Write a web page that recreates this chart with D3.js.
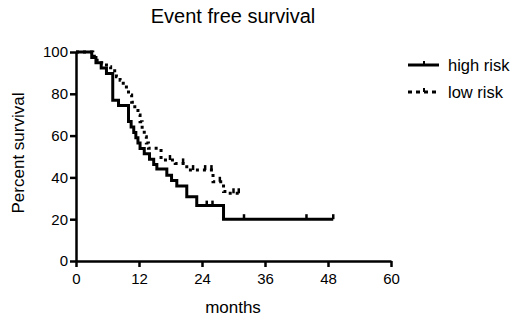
<!DOCTYPE html>
<html>
<head>
<meta charset="utf-8">
<script src="https://cdn.jsdelivr.net/npm/d3@7"></script>
<style>
    body { margin: 0; background: #fff; }
    text { font-family: "Liberation Sans", Arial, sans-serif; fill: #000; }
</style>
</head>
<body>
<div id="chart"></div>
<script>
// Kaplan-Meier step values
const highMonths   = [0, 3.0, 3.8, 4.8, 5.8, 7.0, 8.1, 10.0, 10.5, 11.0, 11.4, 11.8, 12.2, 13.0, 14.0, 14.8, 15.4, 17.3, 18.2, 19.2, 21.1, 23.0, 28.1, 49.0];
const highSurvival = [100, 97.4, 94.9, 92.3, 89.7, 76.9, 74.4, 66.7, 64.1, 61.5, 59.0, 56.4, 53.8, 51.3, 48.7, 46.2, 44.0, 41.0, 38.5, 35.9, 30.8, 26.5, 20.0, 20.0];
const highCensored = [24.9, 26.0, 32.0, 43.9, 49.0];

const lowMonths   = [0, 3.2, 4.0, 4.9, 5.8, 6.6, 7.7, 8.4, 9.0, 9.6, 10.0, 10.6, 11.2, 11.8, 12.2, 12.6, 13.0, 13.4, 13.8, 16.2, 18.9, 21.1, 26.1, 28.1, 28.7, 31.0];
const lowSurvival = [100, 98, 96, 94.5, 93, 91, 88.2, 86.5, 84.2, 82, 79.4, 76, 72, 69.8, 66.6, 63, 59.5, 56.5, 53.9, 48.3, 46.7, 43.5, 37.9, 33.2, 32.4, 32.4];
const lowCensored = [17.9, 20.4, 22.3, 24.6, 25.8, 27.4, 30.0, 31.0];

const xTicks = [0, 12, 24, 36, 48, 60];
const yTicks = [0, 20, 40, 60, 80, 100];
const seriesNames = ["high risk", "low risk"];

const width = 520, height = 325;

const svg = d3.select("#chart")
    .append("svg")
    .attr("width", width)
    .attr("height", height);

// scales
const x = d3.scaleLinear().domain([0, 60]).range([76, 391]);
const y = d3.scaleLinear().domain([0, 100]).range([261, 52]);

// axes
const xAxis = d3.axisBottom(x).tickValues(xTicks).tickSize(6).tickPadding(6).tickSizeOuter(0);
const yAxis = d3.axisLeft(y).tickValues(yTicks).tickSize(6).tickPadding(2).tickSizeOuter(0);

svg.append("g")
    .attr("transform", "translate(0," + y(0) + ")")
    .call(xAxis)
    .call(g => g.selectAll("path, line").attr("stroke", "#000").attr("stroke-width", 2.5))
    .call(g => g.selectAll("text").style("font-size", "15px").attr("fill", "#000"));

svg.append("g")
    .attr("transform", "translate(" + x(0) + ",0)")
    .call(yAxis)
    .call(g => g.selectAll("path, line").attr("stroke", "#000").attr("stroke-width", 2.5))
    .call(g => g.selectAll("text").style("font-size", "15px").attr("fill", "#000"));

// survival curves
const line = d3.line()
    .x(d => x(d[0]))
    .y(d => y(d[1]))
    .curve(d3.curveStepAfter);

const highData = highMonths.map((m, i) => [m, highSurvival[i]]);
const lowData = lowMonths.map((m, i) => [m, lowSurvival[i]]);

// value of a step curve at time t
function stepAt(months, surv, t) {
    let v = surv[0];
    months.forEach((m, i) => { if (m <= t) v = surv[i]; });
    return v;
}

svg.append("path")
    .datum(lowData)
    .attr("fill", "none")
    .attr("stroke", "#000")
    .attr("stroke-width", 3)
    .attr("stroke-dasharray", "3,4")
    .attr("d", line);

svg.append("path")
    .datum(highData)
    .attr("fill", "none")
    .attr("stroke", "#000")
    .attr("stroke-width", 3)
    .attr("d", line);

// censor marks
svg.selectAll("line.censor-high")
    .data(highCensored)
    .enter()
    .append("line")
    .attr("class", "censor-high")
    .attr("x1", d => x(d)).attr("x2", d => x(d))
    .attr("y1", d => y(stepAt(highMonths, highSurvival, d)))
    .attr("y2", d => y(stepAt(highMonths, highSurvival, d)) - 5)
    .attr("stroke", "#000")
    .attr("stroke-width", 2.5);

svg.selectAll("line.censor-low")
    .data(lowCensored)
    .enter()
    .append("line")
    .attr("class", "censor-low")
    .attr("x1", d => x(d)).attr("x2", d => x(d))
    .attr("y1", d => y(stepAt(lowMonths, lowSurvival, d)))
    .attr("y2", d => y(stepAt(lowMonths, lowSurvival, d)) - 5)
    .attr("stroke", "#000")
    .attr("stroke-width", 2.5);

// title and axis labels
svg.append("text")
    .attr("x", 233)
    .attr("y", 23)
    .attr("text-anchor", "middle")
    .style("font-size", "20px")
    .text("Event free survival");

svg.append("text")
    .attr("x", 233)
    .attr("y", 313)
    .attr("text-anchor", "middle")
    .style("font-size", "17px")
    .text("months");

svg.append("text")
    .attr("transform", "translate(24,153) rotate(-90)")
    .attr("text-anchor", "middle")
    .style("font-size", "17px")
    .text("Percent survival");

// legend
const legend = svg.selectAll("g.legend")
    .data(seriesNames)
    .enter()
    .append("g")
    .attr("class", "legend")
    .attr("transform", (d, i) => "translate(408," + (65 + i * 27) + ")");

legend.append("line")
    .attr("x1", 0).attr("x2", 31)
    .attr("y1", 0).attr("y2", 0)
    .attr("stroke", "#000")
    .attr("stroke-width", 3)
    .attr("stroke-dasharray", (d, i) => i === 0 ? null : "4,4");

legend.append("line")
    .attr("x1", 16).attr("x2", 16)
    .attr("y1", 0).attr("y2", -4)
    .attr("stroke", "#000")
    .attr("stroke-width", 2);

legend.append("text")
    .attr("x", 40)
    .attr("y", 6)
    .style("font-size", "16.5px")
    .text(d => d);
</script>
</body>
</html>
